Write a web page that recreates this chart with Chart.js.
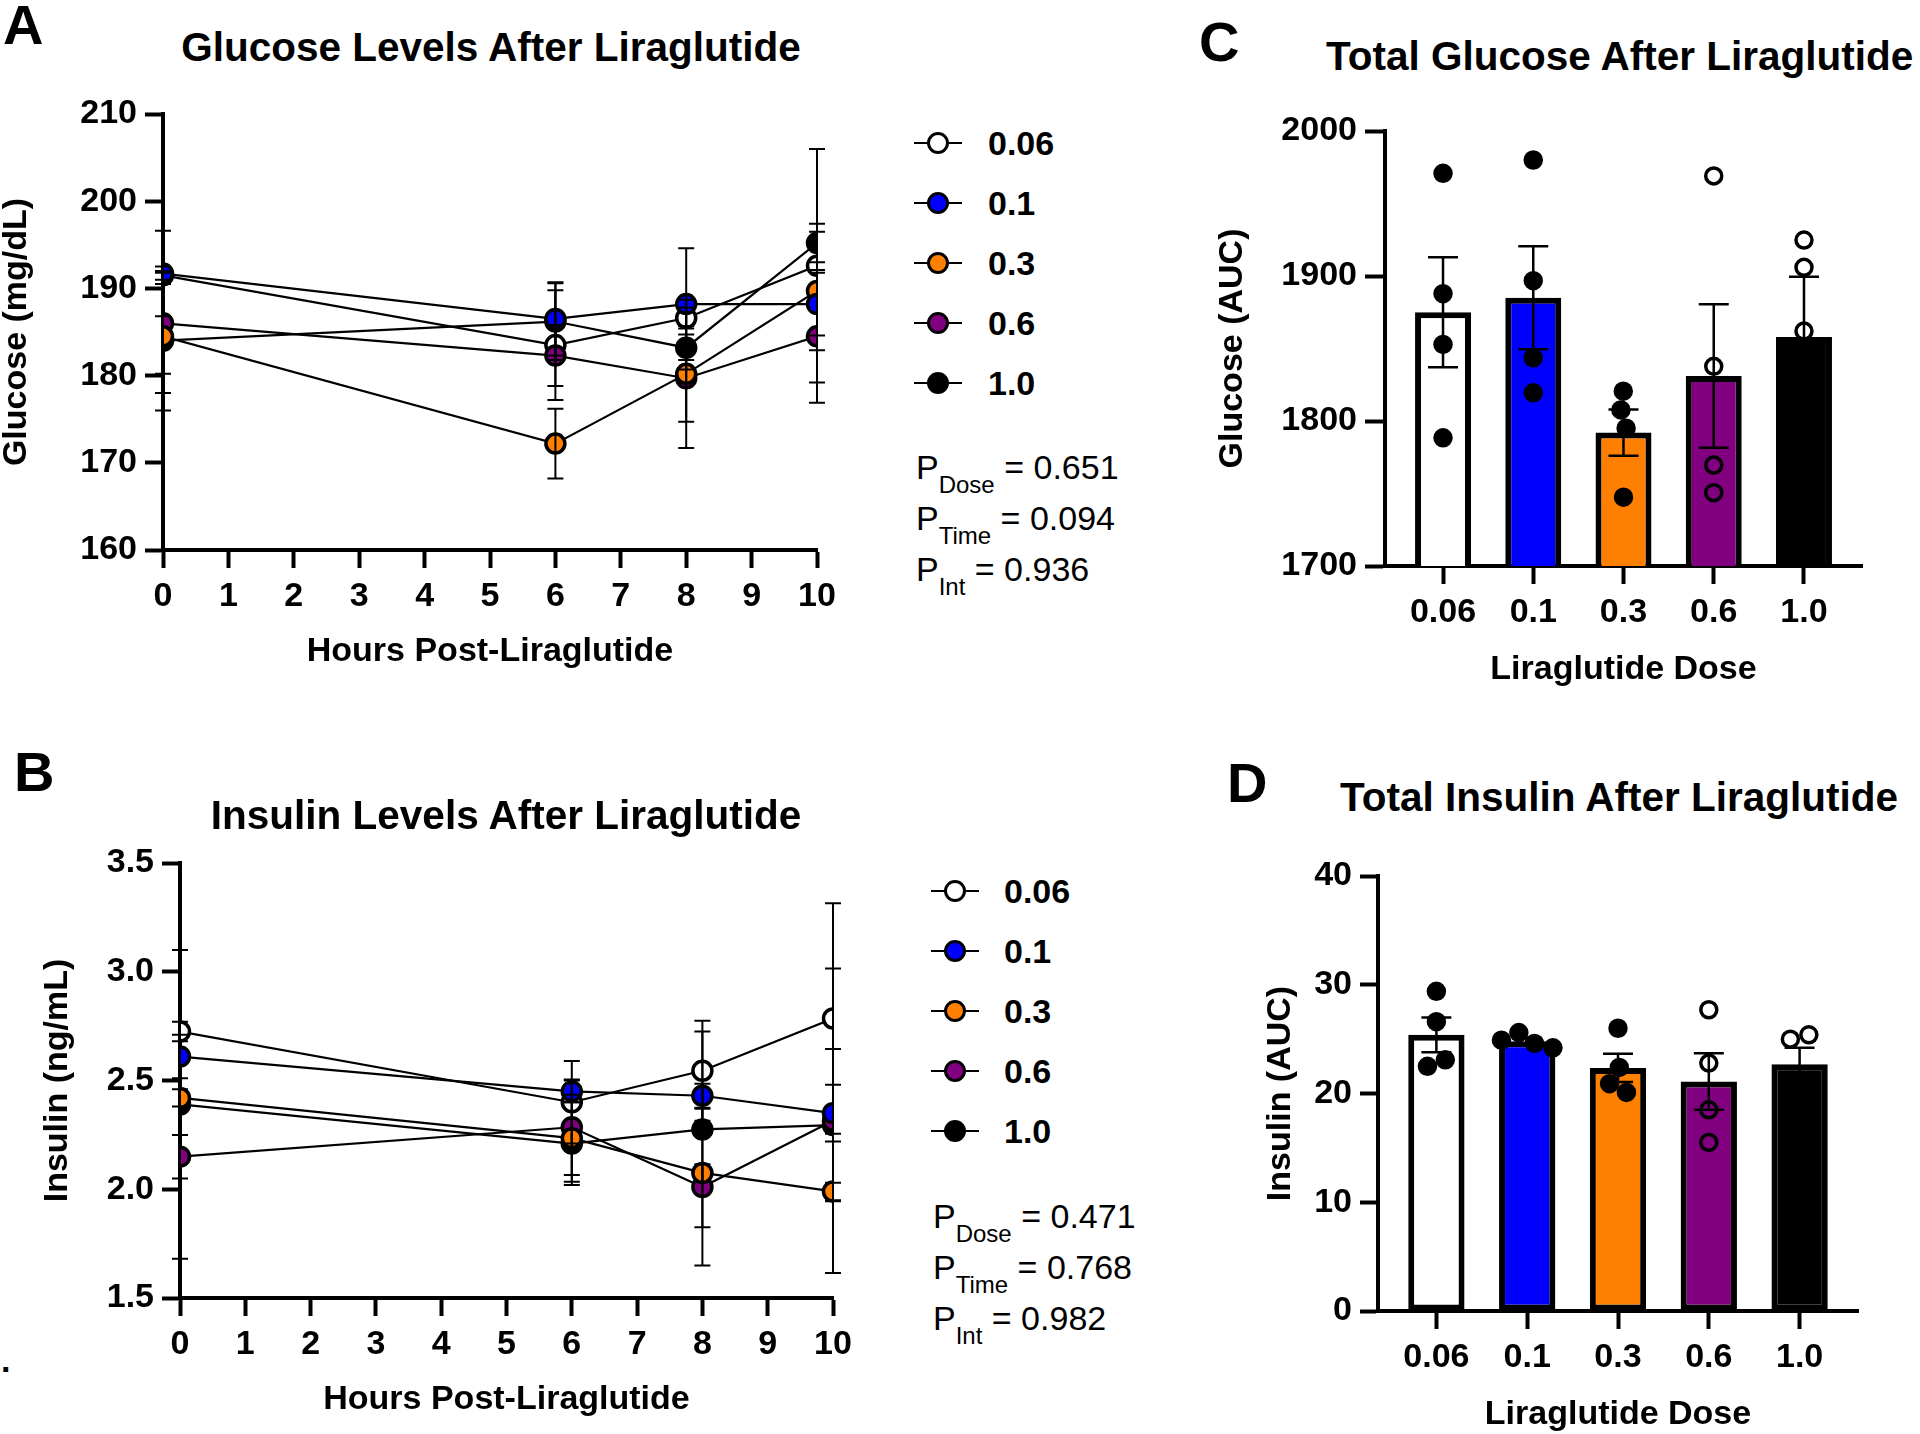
<!DOCTYPE html>
<html>
<head>
<meta charset="utf-8">
<script src="https://cdn.jsdelivr.net/npm/chart.js@4.4.1/dist/chart.umd.min.js"></script>
<style>
  html, body { margin: 0; padding: 0; background: #fff; }
  body { width: 1920px; height: 1434px; position: relative; overflow: hidden;
         font-family: "Liberation Sans", Arial, sans-serif; color: #000; }
  canvas { position: absolute; }
  .txt { position: absolute; line-height: 1; white-space: nowrap; }
  .letter { font-size: 56px; font-weight: bold; }
  .title { font-size: 40.5px; font-weight: bold; }
  .mid { transform: translateX(-50%); }
  .ln { position: absolute; height: 2px; background: #000; }
  .mk { position: absolute; width: 22px; height: 22px; border: 3.5px solid #000;
        border-radius: 50%; box-sizing: border-box; }
  .lb { font-size: 34px; font-weight: bold; }
  .pv { font-size: 34px; }
  .pv sub { font-size: 24px; vertical-align: -14px; line-height: 0; }
</style>
</head>
<body>
<canvas id="glucoseLine" width="870" height="620" style="left:0px;top:80px"></canvas>
<canvas id="insulinLine" width="840" height="600" style="left:41px;top:830px"></canvas>
<canvas id="glucoseAuc" width="704" height="600" style="left:1216px;top:100px"></canvas>
<canvas id="insulinAuc" width="656" height="594" style="left:1264px;top:840px"></canvas>

<div class="txt letter" style="left:3px;top:-3px">A</div>
<div class="txt letter" style="left:14px;top:744px">B</div>
<div class="txt letter" style="left:1199px;top:14px">C</div>
<div class="txt letter" style="left:1227px;top:755px">D</div>
<div class="txt lb" style="left:1px;top:1343px">.</div>

<div class="txt title mid" style="left:491px;top:27px">Glucose Levels After Liraglutide</div>
<div class="txt title mid" style="left:506px;top:795px">Insulin Levels After Liraglutide</div>
<div class="txt title" style="left:1326px;top:36px">Total Glucose After Liraglutide</div>
<div class="txt title mid" style="left:1619px;top:777px">Total Insulin After Liraglutide</div>

<div id="overlay"></div>

<script>
// doses (mg/kg) and their colours
const doses = ["0.06", "0.1", "0.3", "0.6", "1.0"];
const doseColors = ["#ffffff", "#0000ff", "#ff8000", "#800080", "#000000"];
const dotFilled = [true, true, true, false, false];
const drawRank = [4, 0, 1, 2, 3];

const hours = [0, 6, 8, 10];

// glucose (mg/dL), one row per dose, columns = hours
const glucoseMean = [
  [191.5, 183.5, 186.6, 192.6],
  [191.7, 186.5, 188.2, 188.2],
  [184.5, 172.2, 180.2, 189.7],
  [186.0, 182.3, 179.7, 184.5],
  [184.0, 186.2, 183.2, 195.2]
];
const glucoseSem = [
  [1.0, 6.3, 1.2, 13.4],
  [4.9, 4.2, 6.4, 3.6],
  [6.5, 4.0, 8.5, 6.8],
  [5.8, 3.5, 5.0, 7.6],
  [8.0, 4.4, 2.5, 2.2]
];

// insulin (ng/mL)
const insulinMean = [
  [2.725, 2.40, 2.545, 2.785],
  [2.61, 2.45, 2.43, 2.35],
  [2.42, 2.235, 2.075, 1.99],
  [2.15, 2.285, 2.01, 2.315],
  [2.39, 2.21, 2.275, 2.295]
];
const insulinSem = [
  [0.045, 0.19, 0.23, 0.53],
  [0.10, 0.05, 0.055, 0.13],
  [0.04, 0.20, 0.04, 0.04],
  [0.10, 0.22, 0.36, 0.70],
  [0.71, 0.19, 0.45, 0.35]
];

// glucose AUC
const glucoseAucMean = [1875, 1885, 1792, 1831, 1858];
const glucoseAucSem = [38, 35.5, 16, 49.5, 41.5];
const glucoseAucPoints = [
  [1970.8, 1887.8, 1852.8, 1788.4],
  [1980.0, 1896.8, 1843.6, 1819.4],
  [1820.6, 1807.6, 1795.0, 1747.5],
  [1969.0, 1837.7, 1769.6, 1750.6],
  [1924.8, 1906.0, 1862.0, 1740.0]
];

// insulin AUC
const insulinAucMean = [25.4, 24.8, 22.35, 21.1, 22.7];
const insulinAucSem = [1.6, 0.3, 1.3, 2.6, 1.5];
const insulinAucPoints = [
  [29.4, 26.6, 23.1, 22.5],
  [25.6, 24.9, 24.6, 24.2],
  [26.0, 22.4, 20.9, 20.1],
  [27.7, 22.8, 18.5, 15.5],
  [25.4, 25.0, 17.7]
];

const pGlucose = [["Dose", "0.651"], ["Time", "0.094"], ["Int", "0.936"]];
const pInsulin = [["Dose", "0.471"], ["Time", "0.768"], ["Int", "0.982"]];

Chart.defaults.font.family = "'Liberation Sans', Arial, sans-serif";
Chart.defaults.color = "#000";

const tickFont = { size: 34, weight: "bold", lineHeight: 1 };
const titleFont = { size: 34, weight: "bold", lineHeight: 1 };

// SEM bars, drawn over the marks like the original
const errorBars = {
  id: "errorBars",
  afterDatasetsDraw(chart) {
    const ctx = chart.ctx;
    const yScale = chart.scales.y;
    chart.data.datasets.forEach((ds, i) => {
      if (!ds.sem) return;
      const meta = chart.getDatasetMeta(i);
      ctx.save();
      ctx.strokeStyle = "#000";
      ctx.lineWidth = ds.errWidth;
      meta.data.forEach((el, j) => {
        const v = ds.data[j].y, s = ds.sem[j];
        const yTop = yScale.getPixelForValue(v + s);
        const yBot = yScale.getPixelForValue(v - s);
        const x = el.x, c = ds.capHalf;
        ctx.beginPath();
        ctx.moveTo(x, yTop); ctx.lineTo(x, yBot);
        ctx.moveTo(x - c, yTop); ctx.lineTo(x + c, yTop);
        ctx.moveTo(x - c, yBot); ctx.lineTo(x + c, yBot);
        ctx.stroke();
      });
      ctx.restore();
    });
  }
};

// spread overlapping dots sideways, like a column scatter
const swarm = {
  id: "swarm",
  afterDatasetsUpdate(chart) {
    chart.data.datasets.forEach((ds, i) => {
      if (!ds.swarm) return;
      const d = ds.swarm;
      const els = chart.getDatasetMeta(i).data.slice().sort((a, b) => a.y - b.y);
      let chain = [];
      const place = () => {
        const placed = [];
        chain.forEach(el => {
          const blocked = [];
          placed.forEach(p => {
            const dy = el.y - p.el.y;
            if (Math.abs(dy) < d) {
              const w = Math.sqrt(d * d - dy * dy);
              blocked.push([p.off - w, p.off + w]);
            }
          });
          const cands = [0];
          blocked.forEach(b => cands.push(b[0], b[1]));
          cands.sort((a, b) => Math.abs(a) - Math.abs(b));
          const off = cands.find(c => blocked.every(b => c <= b[0] + 1e-6 || c >= b[1] - 1e-6));
          placed.push({ el, off });
        });
        const offs = placed.map(p => p.off);
        const mid = (Math.min(...offs) + Math.max(...offs)) / 2;
        placed.forEach(p => { p.el.x += p.off - mid; });
      };
      els.forEach(el => {
        if (chain.length && el.y - chain[chain.length - 1].y >= d) { place(); chain = []; }
        chain.push(el);
      });
      if (chain.length) place();
    });
  }
};

function axisLines(tickLen) {
  return {
    grid: { display: true, drawOnChartArea: false, drawTicks: true, tickLength: tickLen,
            tickWidth: 4, tickColor: "#000", offset: false },
    border: { display: true, width: 4, color: "#000" }
  };
}

function lineChart(id, means, sems, yMin, yMax, yStep, yDecimals, yTitle, box) {
  const datasets = doses.map((d, k) => ({
    label: d,
    data: hours.map((h, j) => ({ x: h, y: means[k][j] })),
    sem: sems[k], capHalf: 8, errWidth: 2,
    borderColor: "#000", borderWidth: 2.2,
    pointRadius: 9.5, pointHoverRadius: 9.5, pointBorderWidth: 3.5,
    pointBorderColor: "#000", pointBackgroundColor: doseColors[k],
    tension: 0, order: drawRank[k]
  }));
  return new Chart(document.getElementById(id), {
    type: "line",
    data: { datasets },
    plugins: [errorBars],
    options: {
      responsive: false, animation: false, devicePixelRatio: 1, events: [],
      layout: { padding: box.pad },
      plugins: { legend: { display: false }, tooltip: { enabled: false } },
      scales: {
        x: {
          type: "linear", min: 0, max: 10, offset: false,
          ...axisLines(18),
          ticks: { stepSize: 1, font: tickFont, padding: 12, color: "#000", maxRotation: 0, autoSkip: false },
          title: { display: true, text: "Hours Post-Liraglutide", font: titleFont, color: "#000",
                   padding: { top: 0, bottom: box.xTitlePad } },
          afterFit: s => { s.height = box.xH; }
        },
        y: {
          min: yMin, max: yMax,
          ...axisLines(18),
          ticks: { stepSize: yStep, font: tickFont, padding: 8, color: "#000",
                   callback: v => v.toFixed(yDecimals) },
          title: { display: true, text: yTitle, font: titleFont, color: "#000", padding: 0 },
          afterFit: s => { s.width = box.yW; }
        }
      }
    }
  });
}

function aucChart(id, means, sems, points, yMin, yMax, yStep, yTitle, box) {
  const bars = {
    type: "bar",
    data: means.map((v, k) => ({ x: k, y: v })),
    backgroundColor: doseColors, borderColor: "#000", borderWidth: 6, borderSkipped: false,
    barPercentage: 0.62, categoryPercentage: 1,
    sem: sems, capHalf: 15, errWidth: 2.5, order: 2
  };
  const dots = points.map((vals, k) => ({
    type: "scatter",
    data: vals.map(v => ({ x: k, y: v })),
    pointRadius: 8, pointHoverRadius: 8, pointBorderWidth: 3.5, pointBorderColor: "#000",
    pointBackgroundColor: dotFilled[k] ? "#000" : "rgba(0,0,0,0)",
    swarm: 19, order: 1
  }));
  return new Chart(document.getElementById(id), {
    type: "bar",
    data: { datasets: [bars, ...dots] },
    plugins: [swarm, errorBars],
    options: {
      responsive: false, animation: false, devicePixelRatio: 1, events: [],
      layout: { padding: box.pad },
      plugins: { legend: { display: false }, tooltip: { enabled: false } },
      scales: {
        x: {
          type: "linear", min: -0.643, max: 4.643, offset: false,
          ...axisLines(18),
          afterBuildTicks: s => { s.ticks = doses.map((_, k) => ({ value: k })); },
          ticks: { font: tickFont, padding: 12, color: "#000", maxRotation: 0, autoSkip: false,
                   callback: v => doses[v] },
          title: { display: true, text: "Liraglutide Dose", font: titleFont, color: "#000",
                   padding: { top: 0, bottom: box.xTitlePad } },
          afterFit: s => { s.height = box.xH; }
        },
        y: {
          min: yMin, max: yMax, beginAtZero: false,
          ...axisLines(box.yTick),
          ticks: { stepSize: yStep, font: tickFont, padding: 8, color: "#000",
                   callback: v => String(v) },
          title: { display: true, text: yTitle, font: titleFont, color: "#000", padding: 0 },
          afterFit: s => { s.width = box.yW; }
        }
      }
    }
  });
}

lineChart("glucoseLine", glucoseMean, glucoseSem, 160, 210, 10, 0, "Glucose (mg/dL)",
  { pad: { left: 0, top: 34, right: 53, bottom: 26 }, yW: 163, xH: 124, xTitlePad: 5 });
lineChart("insulinLine", insulinMean, insulinSem, 1.5, 3.5, 0.5, 1, "Insulin (ng/mL)",
  { pad: { left: 0, top: 33, right: 48, bottom: 8 }, yW: 139, xH: 124, xTitlePad: 5 });
aucChart("glucoseAuc", glucoseAucMean, glucoseAucSem, glucoseAucPoints, 1700, 2000, 100, "Glucose (AUC)",
  { pad: { left: 0, top: 31, right: 58, bottom: 10 }, yW: 169, xH: 124, xTitlePad: 3, yTick: 20 });
aucChart("insulinAuc", insulinAucMean, insulinAucSem, insulinAucPoints, 0, 40, 10, "Insulin (AUC)",
  { pad: { left: 0, top: 36, right: 62, bottom: 1 }, yW: 114, xH: 122, xTitlePad: 1, yTick: 18 });

// legends and P values as page text
const overlay = document.getElementById("overlay");
function addLegend(lineX, markX, labelX, firstRow) {
  doses.forEach((d, k) => {
    const y = firstRow + k * 60;
    overlay.insertAdjacentHTML("beforeend",
      `<div class="ln" style="left:${lineX}px;top:${y - 1}px;width:48px"></div>` +
      `<div class="mk" style="left:${markX - 11}px;top:${y - 11}px;background:${doseColors[k]}"></div>` +
      `<div class="txt lb" style="left:${labelX}px;top:${y - 16.6}px">${d}</div>`);
  });
}
function addPValues(x, firstRow, rows) {
  rows.forEach((r, k) => {
    const y = firstRow + k * 51;
    overlay.insertAdjacentHTML("beforeend",
      `<div class="txt pv" style="left:${x}px;top:${y - 16.6}px">P<sub>${r[0]}</sub> = ${r[1]}</div>`);
  });
}
addLegend(914, 938, 988, 143);
addLegend(931, 955, 1004, 891);
addPValues(916, 467, pGlucose);
addPValues(933, 1216, pInsulin);
</script>
</body>
</html>
